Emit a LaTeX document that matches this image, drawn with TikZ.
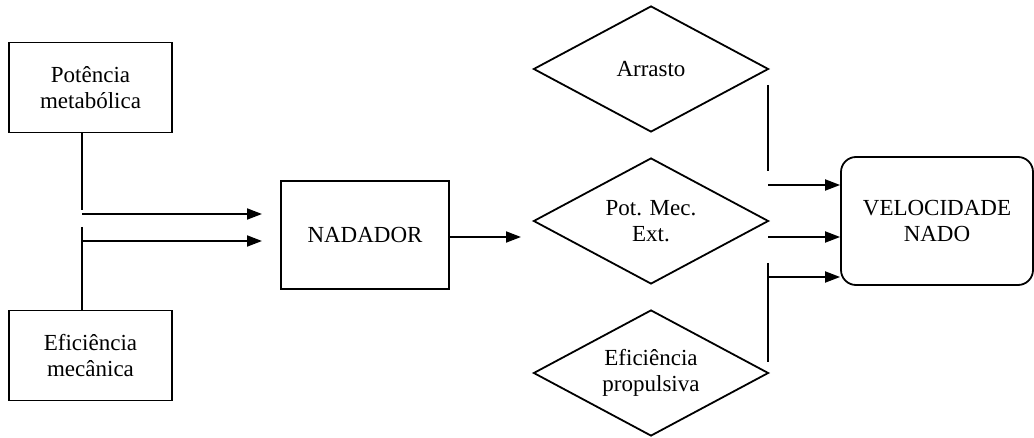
\documentclass[tikz,border=0pt]{standalone}
\usepackage{fontspec}
\setmainfont{Liberation Serif}
\usetikzlibrary{positioning,shapes.geometric,arrows.meta}

\begin{document}
\begin{tikzpicture}[x=0.5pt, y=-0.5pt]
	\useasboundingbox (0,0) rectangle (1034,438);
	\begin{scope}[line width=0.9pt]
		\tikzstyle{every node}=[align=center, inner sep=1pt, font=\fontsize{11.5}{13}\selectfont]
		\tikzstyle{caixa}=[draw, rectangle, minimum width=81.5pt, minimum height=45pt]
		\tikzstyle{losango}=[draw, diamond, aspect=1.87, inner sep=0pt, minimum width=117.5pt, minimum height=63pt]
		\tikzstyle{caixaR}=[draw, rectangle, rounded corners=7.5pt, minimum width=96pt, minimum height=64pt]
		\tikzstyle{seta}=[-{Triangle[length=7.5pt, width=5.5pt]}]

		\node[caixa] (pm)  at (90.5, 87.5)  {Potência\\metabólica};
		\node[caixa] (em)  at (90.5, 355.5) {Eficiência\\mecânica};
		\node[caixa, minimum width=84pt, minimum height=54pt] (nad) at (365, 235) {NADADOR};

		\node[losango] (arr) at (651, 69)  {Arrasto};
		\node[losango] (pme) at (651, 221) {Pot. Mec.\\Ext.};
		\node[losango] (efp) at (651, 373) {Eficiência\\propulsiva};

		\node[caixaR] (vel) at (937, 221) {VELOCIDADE\\NADO};

		% lado esquerdo
		\coordinate (lj1) at (82, 210);
		\coordinate (lj2) at (82, 227);
		\coordinate (la1) at (82, 214);
		\coordinate (la2) at (82, 241);
		\coordinate (lt1) at (262, 214);
		\coordinate (lt2) at (262, 241);
		\draw (pm.south -| lj1) to (lj1);
		\draw (lj2) to (em.north -| lj2);
		\draw [seta] (la1) to (lt1);
		\draw [seta] (la2) to (lt2);

		% nadador
		\coordinate (mt) at (521, 237);
		\draw [seta] (nad.east |- mt) to (mt);

		% lado direito
		\coordinate (rj1) at (768, 85);
		\coordinate (rj2) at (768, 171);
		\coordinate (rj3) at (768, 263);
		\coordinate (rj4) at (768, 362);
		\coordinate (ra1) at (768, 185);
		\coordinate (ra2) at (768, 237);
		\coordinate (ra3) at (768, 277);
		\draw (rj1) to (rj2);
		\draw (rj3) to (rj4);
		\draw [seta] (ra1) to (ra1 -| vel.west);
		\draw [seta] (ra2) to (ra2 -| vel.west);
		\draw [seta] (ra3) to (ra3 -| vel.west);
	\end{scope}
\end{tikzpicture}
\end{document}
